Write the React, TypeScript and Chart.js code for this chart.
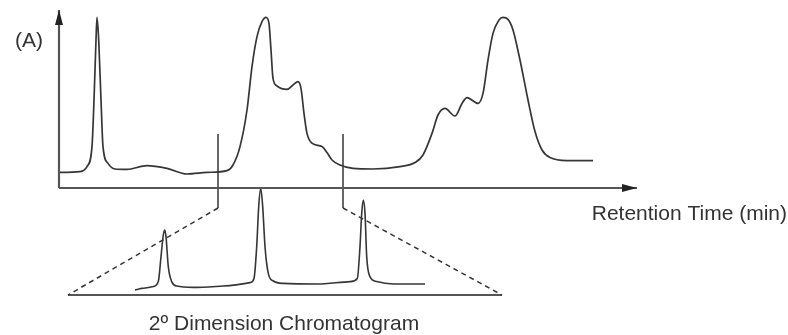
import React, { useEffect, useRef } from 'react';
import { Chart, registerables } from 'chart.js';
Chart.register(...registerables);

// First-dimension chromatogram: retention time (min) vs absorbance (a.u.)
const mainTime = [0, 2.1, 2.8, 3.3, 3.5, 3.7, 3.8, 3.97, 4.2, 4.4, 4.9, 5.6, 6.8, 8.8, 10.8, 12.8, 14.8, 16.8, 17.4, 18.1, 18.8, 19.3, 19.8, 20.3, 20.7, 21.0, 21.2, 21.4, 21.8, 22.8, 23.4, 23.9, 24.2, 24.5, 24.8, 25.3, 26.3, 26.8, 27.3, 28.1, 29.4, 31.4, 34.1, 35.6, 36.4, 37.3, 37.9, 38.6, 39.6, 40.3, 40.8, 41.9, 42.4, 42.9, 43.4, 44.0, 44.4, 44.9, 45.4, 46.1, 46.9, 47.6, 48.3, 49.1, 50.8, 53.4];
const mainAbs = [7.8, 8.2, 10.7, 20.7, 44, 74, 85.3, 74, 44, 20.7, 12.3, 9.5, 9.3, 11.2, 9.8, 7, 7.8, 8.7, 11.5, 20.7, 39, 60.7, 75.7, 83.2, 85.3, 82.3, 69, 54.8, 51, 49.3, 51.5, 53.2, 49.8, 37.3, 27.3, 22.4, 20.7, 17.7, 14, 11.5, 9.8, 9.5, 10.7, 12.7, 16.5, 27.3, 36.5, 39.8, 36, 42.3, 45.2, 42.3, 47.3, 64, 77.3, 84, 85.3, 84.3, 79, 64, 44, 28.2, 19, 15.2, 13.7, 13.7];

// Second-dimension chromatogram
const secTime = [6.7, 7.37, 8.53, 9.03, 9.3, 9.53, 9.67, 9.8, 10.03, 10.37, 10.87, 12.53, 15.53, 18.2, 18.6, 18.87, 19.07, 19.27, 19.47, 19.7, 20.03, 20.53, 21.53, 24.87, 28.2, 28.93, 29.2, 29.37, 29.53, 29.7, 29.87, 30.2, 30.87, 32.53, 35.7];
const secAbs = [2.5, 3.3, 4.2, 6.7, 19.2, 30, 32.5, 29.2, 14.2, 6.7, 4.5, 3.8, 4.5, 6.2, 8.3, 24.2, 44.2, 53.3, 44.2, 24.2, 10.8, 7, 5.8, 5.5, 6.7, 8.3, 24.2, 40.8, 47.5, 40.8, 19.2, 9.2, 6.7, 5.5, 5.5];

// Heart-cut window (first dimension)
const cutTimes = [15.9, 28.4];
const cutAbsRange = [27, -10];
// Axis extents
const mainAxisTimeEnd = 57.8;
const mainAxisAbsEnd = 89;
const secAxisTimeEnd = 43.4;
// Position of the 2nd-dimension baseline ends in first-dimension units
const secBaseInMain = [0.9, 44.3];
const secBaseAbsInMain = -53.5;

const yLabel = '(A)';
const xLabel = 'Retention Time (min)';
const secLabel = '2º Dimension Chromatogram';

const LINE = '#363636';
const AXIS = '#555555';
const FONT = '21px "Liberation Sans", Arial, sans-serif';

const pts = (xs: number[], ys: number[]) => xs.map((x, i) => ({ x, y: ys[i] }));

const arrowPlugin = {
  id: 'arrowheads',
  afterDatasetsDraw(chart: any) {
    const ctx = chart.ctx;
    chart.data.datasets.forEach((ds: any, i: number) => {
      if (!ds.arrow) return;
      const meta = chart.getDatasetMeta(i);
      const p = meta.data;
      const a = p[p.length - 1];
      const b = p[p.length - 2];
      const ang = Math.atan2(a.y - b.y, a.x - b.x);
      const len = 15, hw = 4;
      ctx.save();
      ctx.translate(a.x, a.y);
      ctx.rotate(ang);
      ctx.beginPath();
      ctx.moveTo(0, 0);
      ctx.lineTo(-len, -hw);
      ctx.lineTo(-len, hw);
      ctx.closePath();
      ctx.fillStyle = '#222';
      ctx.fill();
      ctx.restore();
    });
  },
};

const textPlugin = {
  id: 'diagramText',
  afterDraw(chart: any) {
    const ctx = chart.ctx;
    const s = chart.scales;
    ctx.save();
    ctx.font = FONT;
    ctx.fillStyle = '#333';
    ctx.textBaseline = 'middle';
    ctx.textAlign = 'center';
    ctx.fillText(yLabel, s.x.getPixelForValue(-3), s.y.getPixelForValue(73.5));
    ctx.textAlign = 'right';
    ctx.fillText(xLabel, s.x.getPixelForValue(72.8), s.y.getPixelForValue(-13));
    ctx.textAlign = 'center';
    ctx.fillText(secLabel, s.x2.getPixelForValue(21.6), s.y2.getPixelForValue(-14.5));
    ctx.restore();
  },
};

export default function App() {
  const ref = useRef<HTMLCanvasElement | null>(null);
  useEffect(() => {
    if (!ref.current) return;
    const base = { pointRadius: 0, showLine: true, fill: false };
    const chart = new Chart(ref.current, {
      type: 'scatter',
      data: {
        datasets: [
          { ...base, data: pts([0, mainAxisTimeEnd], [0, 0]), borderColor: AXIS, borderWidth: 2.2, arrow: true } as any,
          { ...base, data: pts([0, 0], [0, mainAxisAbsEnd]), borderColor: AXIS, borderWidth: 2.2, arrow: true } as any,
          { ...base, data: pts(mainTime, mainAbs), borderColor: LINE, borderWidth: 1.7, cubicInterpolationMode: 'monotone' },
          { ...base, data: pts([cutTimes[0], cutTimes[0]], cutAbsRange), borderColor: LINE, borderWidth: 1.5 },
          { ...base, data: pts([cutTimes[1], cutTimes[1]], cutAbsRange), borderColor: LINE, borderWidth: 1.5 },
          { ...base, data: pts([cutTimes[0], secBaseInMain[0]], [cutAbsRange[1], secBaseAbsInMain]), borderColor: LINE, borderWidth: 1.5, borderDash: [5, 4] },
          { ...base, data: pts([cutTimes[1], secBaseInMain[1]], [cutAbsRange[1], secBaseAbsInMain]), borderColor: LINE, borderWidth: 1.5, borderDash: [5, 4] },
          { ...base, data: pts([0, secAxisTimeEnd], [0, 0]), borderColor: AXIS, borderWidth: 2, xAxisID: 'x2', yAxisID: 'y2' },
          { ...base, data: pts(secTime, secAbs), borderColor: LINE, borderWidth: 1.6, cubicInterpolationMode: 'monotone', xAxisID: 'x2', yAxisID: 'y2' },
        ],
      },
      options: {
        responsive: false,
        animation: false,
        layout: { padding: 0 },
        plugins: { legend: { display: false }, tooltip: { enabled: false } },
        scales: {
          x: { type: 'linear', display: false, min: -5.9, max: 72.9 },
          y: { type: 'linear', display: false, min: -73.5, max: 94 },
          x2: { type: 'linear', axis: 'x', display: false, min: -6.8, max: 72 },
          y2: { type: 'linear', axis: 'y', display: false, min: -20, max: 147.5 },
        },
      } as any,
      plugins: [arrowPlugin, textPlugin],
    });
    return () => chart.destroy();
  }, []);
  return (
    <div style={{ position: 'absolute', left: 0, top: 0, width: 788, height: 335, background: '#fff' }}>
      <canvas ref={ref} width={788} height={335} style={{ display: 'block' }} />
    </div>
  );
}
